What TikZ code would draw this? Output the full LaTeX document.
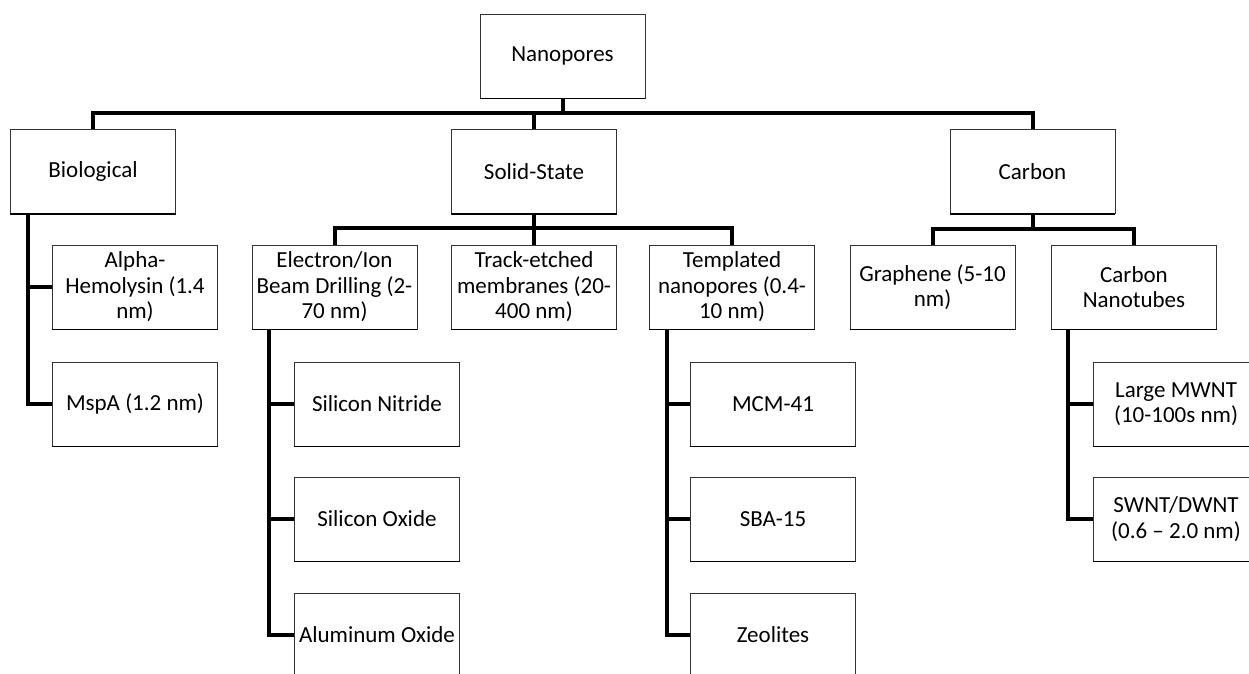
\documentclass[tikz,border=0pt]{standalone}
\usepackage{fontspec}
\setmainfont{Carlito}
\begin{document}
\begin{tikzpicture}[x=1pt,y=-1pt,
  box/.style={draw=black!80,line width=0.9pt,fill=white,
    minimum width=165pt,minimum height=84pt,inner sep=0pt,align=center,
    font=\fontsize{23}{25.5}\selectfont,
    append after command={(\tikzlastnode.south west) edge[line width=1.8pt,draw=black] (\tikzlastnode.south east)}},
  link/.style={line width=4pt,line join=miter,draw=black}
]
\clip (0,0) rectangle (1249,673);
\fill[white] (0,0) rectangle (1249,673);

% root and first level
\node[box] (nano)   at (562.5,56)   {Nanopores};
\node[box] (bio)    at (93,171.5)   {Biological};
\node[box] (solid)  at (534,171.5)  {Solid-State};
\node[box] (carbon) at (1032.5,171.5) {Carbon};

% second level
\node[box] (alpha)  at (135,287)    {Alpha-\\Hemolysin (1.4\\nm)};
\node[box] (elec)   at (334.5,287)  {Electron/Ion\\Beam Drilling (2-\\70 nm)};
\node[box] (track)  at (534,287)    {Track-etched\\membranes (20-\\400 nm)};
\node[box] (templ)  at (732,287)    {Templated\\nanopores (0.4-\\10 nm)};
\node[box] (graph)  at (932.5,287)  {Graphene (5-10\\nm)};
\node[box] (cnt)    at (1134,287)   {Carbon\\Nanotubes};

% third level and below
\node[box] (mspa)   at (135,404)    {MspA (1.2 nm)};
\node[box] (sin)    at (377,404)    {Silicon Nitride};
\node[box] (siox)   at (377,519)    {Silicon Oxide};
\node[box] (alox)   at (377,635)    {Aluminum Oxide};
\node[box] (mcm)    at (773,404)    {MCM-41};
\node[box] (sba)    at (773,519)    {SBA-15};
\node[box] (zeo)    at (773,635)    {Zeolites};
\node[box] (mwnt)   at (1176,404)   {Large MWNT\\(10-100s nm)};
\node[box] (swnt)   at (1176,519)   {SWNT/DWNT\\(0.6 -- 2.0 nm)};

% bus lines and spines
\coordinate (b1) at (0,113);
\coordinate (b2) at (0,228);
\coordinate (b3) at (0,229);
\coordinate (bx) at (28,0);
\coordinate (ex) at (269,0);
\coordinate (tx) at (667,0);
\coordinate (cx) at (1068,0);

% top level tree
\draw[link] (bio.north) -- (bio.north |- b1) -- (carbon.north |- b1) -- (carbon.north);
\draw[link] (nano.south) -- (nano.south |- b1);
\draw[link] (solid.north) -- (solid.north |- b1);

% biological branch
\draw[link] (bio.south -| bx) |- (mspa.west);
\draw[link] (alpha.west) -- (alpha.west -| bx);

% solid-state branch
\draw[link] (elec.north) -- (elec.north |- b2) -- (templ.north |- b2) -- (templ.north);
\draw[link] (solid.south) -- (track.north);
\draw[link] (elec.south -| ex) |- (alox.west);
\draw[link] (sin.west) -- (sin.west -| ex);
\draw[link] (siox.west) -- (siox.west -| ex);
\draw[link] (templ.south -| tx) |- (zeo.west);
\draw[link] (mcm.west) -- (mcm.west -| tx);
\draw[link] (sba.west) -- (sba.west -| tx);

% carbon branch
\draw[link] (graph.north) -- (graph.north |- b3) -- (cnt.north |- b3) -- (cnt.north);
\draw[link] (carbon.south) -- (carbon.south |- b3);
\draw[link] (cnt.south -| cx) |- (swnt.west);
\draw[link] (mwnt.west) -- (mwnt.west -| cx);
\end{tikzpicture}
\end{document}
